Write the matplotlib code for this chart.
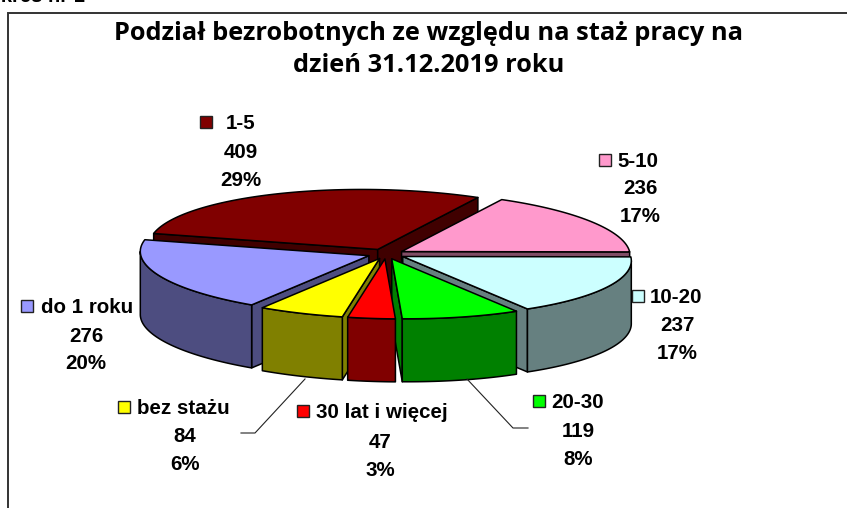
import numpy as np
import matplotlib
matplotlib.use("Agg")
import matplotlib.pyplot as plt
from matplotlib.patches import Polygon, Rectangle

title_lines = ["Podział bezrobotnych ze względu na staż pracy na", "dzień 31.12.2019 roku"]
categories = ["5-10", "10-20", "20-30", "30 lat i więcej", "bez stażu", "do 1 roku", "1-5"]
values = [236, 237, 119, 47, 84, 276, 409]
top_colors = ["#FF99CC", "#CCFFFF", "#00FF00", "#FF0000", "#FFFF00", "#9999FF", "#800000"]
side_colors = ["#804D66", "#668080", "#008000", "#800000", "#808000", "#4D4D80", "#400000"]
draw_order = [6, 0, 5, 1, 4, 2, 3]

# key x, key y, text left, centre x of value lines, value y, percent y
label_pos = [
    (605, 160, 617, 640, 187, 215),
    (638, 296, 650, 677, 324, 352),
    (539, 401, 551, 578, 430, 458),
    (303, 411, 316, 380, 441, 469),
    (124, 407, 137, 185, 435, 463),
    (27, 306, 41, 86, 335, 362),
    (206, 122, 226, 241, 151, 179),
]

W, H = 847, 508
CX, CY, RX, RY, SHEAR, DEPTH, EXPLODE = 386, 254, 228, 60, 0.07, 63, 0.082
START = 30.0

fig = plt.figure(figsize=(W / 100, H / 100), dpi=100)
ax = fig.add_axes([0, 0, 1, 1])
ax.set_xlim(0, W)
ax.set_ylim(H, 0)
ax.axis("off")


def project(theta_deg, r=1.0):
    t = np.radians(theta_deg)
    return r * RX * (np.sin(t) - SHEAR * np.cos(t)), -r * RY * np.cos(t)


fractions = np.array(values) / sum(values)
edges = START + np.concatenate([[0], np.cumsum(fractions) * 360])

for i in draw_order:
    a, b = edges[i], edges[i + 1]
    mid = (a + b) / 2
    ox, oy = project(mid, EXPLODE)
    ox, oy = CX + ox, CY + oy
    arc_t = np.linspace(a, b, 80)
    ax_, ay_ = project(arc_t)
    arc = np.column_stack([ox + ax_, oy + ay_])
    apex = np.array([ox, oy])
    down = np.array([0, DEPTH])
    lw = 1.1
    # visible radial walls
    if arc[0, 0] < ox:
        ax.add_patch(Polygon([apex, arc[0], arc[0] + down, apex + down], fc=side_colors[i], ec="black", lw=lw, joinstyle="round"))
    if arc[-1, 0] > ox:
        ax.add_patch(Polygon([apex, arc[-1], arc[-1] + down, apex + down], fc=side_colors[i], ec="black", lw=lw, joinstyle="round"))
    # visible outer rim
    rim_limit_lo = np.degrees(np.arctan2(1, -SHEAR))
    rim_limit_hi = rim_limit_lo + 180
    lo, hi = max(a, rim_limit_lo), min(b, rim_limit_hi)
    if hi > lo:
        rt = np.linspace(lo, hi, 60)
        rx_, ry_ = project(rt)
        rim = np.column_stack([ox + rx_, oy + ry_])
        ax.add_patch(Polygon(np.vstack([rim, (rim + down)[::-1]]), fc=side_colors[i], ec="black", lw=lw, joinstyle="round"))
    ax.add_patch(Polygon(np.vstack([apex, arc]), fc=top_colors[i], ec="black", lw=lw, joinstyle="round"))

# frame
ax.plot([8, 8, W], [H, 13, 13], color="#333333", lw=1.4, solid_joinstyle="miter")

# clipped heading at top
ax.text(-29, 2, "Wykres nr 1", family="Liberation Sans", fontweight="bold", fontsize=14.5, color="black", ha="left", va="baseline", clip_on=True)

# title
tfont = dict(family="Open Sans", fontweight="bold", fontsize=18.3, color="black", ha="center", va="center")
ax.text(429, 34, title_lines[0], **tfont)
ax.text(429, 66, title_lines[1], **tfont)

# leader lines
ax.plot([241, 255, 305], [433, 433, 379], color="#222222", lw=0.8)
ax.plot([528, 513, 467], [428, 428, 379], color="#222222", lw=0.8)

# labels
font = dict(family="Liberation Sans", fontweight="bold", fontsize=14.8, color="black", va="center")
for cat, val, frac, col, pos in zip(categories, values, fractions, top_colors, label_pos):
    kx, ky, tx, cx, vy, py = pos
    ax.add_patch(Rectangle((kx - 6, ky - 6), 12, 12, fc=col, ec="#222222", lw=1.0))
    ax.text(tx, ky + 1.5, cat, ha="left", **font)
    ax.text(cx, vy + 1.5, str(val), ha="center", **font)
    ax.text(cx, py + 1.5, f"{frac * 100:.0f}%", ha="center", **font)

fig.savefig("out.png", dpi=100)
